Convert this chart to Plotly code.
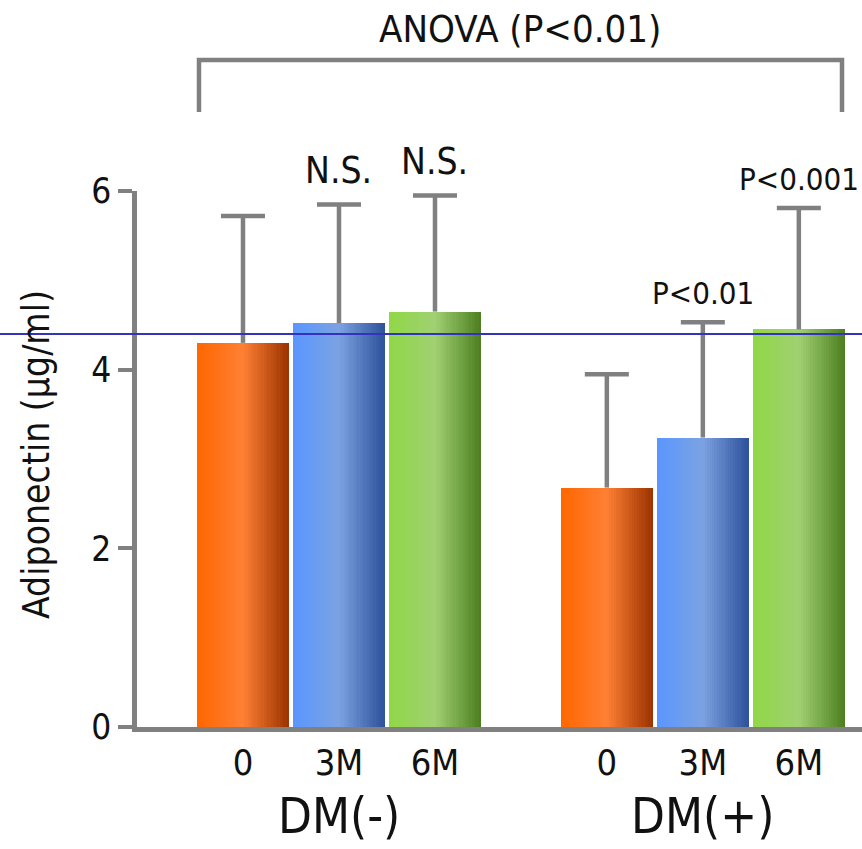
import numpy as np
import plotly.graph_objects as go

# ---- data -------------------------------------------------------------
groups = ["DM(-)", "DM(+)"]
periods = ["0", "3M", "6M"]
mean_0 = [4.30, 2.68]
mean_3m = [4.52, 3.24]
mean_6m = [4.65, 4.45]
sd_0 = [1.42, 1.27]
sd_3m = [1.33, 1.29]
sd_6m = [1.30, 1.36]
notes_0 = ["", ""]
notes_3m = ["N.S.", "P<0.01"]
notes_6m = ["N.S.", "P<0.001"]
reference_level = 4.40
anova_label = "ANOVA (P<0.01)"
y_title = "Adiponectin (µg/ml)"

means = [mean_0, mean_3m, mean_6m]
sds = [sd_0, sd_3m, sd_6m]
notes = [notes_0, notes_3m, notes_6m]

# ---- styling ----------------------------------------------------------
FONT = "DejaVu Sans Condensed, DejaVu Sans, sans-serif"
GREY = "#808080"
INK = "#111111"
# horizontal gradient stops (left, middle highlight, right shade)
gradients = [
    [(0.0, "#FF6600"), (0.5, "#FF8034"), (1.0, "#9A3200")],
    [(0.0, "#5A96FF"), (0.5, "#7CA2E2"), (1.0, "#2D519A")],
    [(0.0, "#90D846"), (0.5, "#A0D072"), (1.0, "#4C7E20")],
]
group_pos = [0.0, 3.79]
bar_w = 0.958
n_slices = 40


def hex_rgb(h):
    h = h.lstrip("#")
    return np.array([int(h[i:i + 2], 16) for i in (0, 2, 4)], dtype=float)


def grad_color(stops, t):
    for (t0, c0), (t1, c1) in zip(stops[:-1], stops[1:]):
        if t <= t1:
            f = (t - t0) / (t1 - t0)
            c = hex_rgb(c0) * (1 - f) + hex_rgb(c1) * f
            return "rgb(%d,%d,%d)" % tuple(np.round(c))
    c = hex_rgb(stops[-1][1])
    return "rgb(%d,%d,%d)" % tuple(c)


# pixel helpers for decorations placed outside the plotting area
px = lambda v: (v - 137) / 725.0
py = lambda v: (727 - v) / 536.0

fig = go.Figure()

centers_all, labels_all = [], []
for p, period in enumerate(periods):
    centers = [g + p for g in group_pos]
    centers_all += centers
    labels_all += [period, period]
    # each bar is built from thin vertical slices to give a left-to-right shading
    sw = bar_w / n_slices
    for k in range(n_slices):
        off = -bar_w / 2 + k * sw
        w = sw * 1.6 if k < n_slices - 1 else sw
        fig.add_trace(go.Bar(
            x=centers, y=means[p], width=w, offset=off,
            marker=dict(color=grad_color(gradients[p], (k + 0.5) / n_slices), line_width=0),
            hoverinfo="skip", showlegend=False,
        ))

# error bars: upward stem without caps, plus a cap at the top end only
for p in range(3):
    centers = [g + p for g in group_pos]
    tops = [m + s for m, s in zip(means[p], sds[p])]
    fig.add_trace(go.Scatter(
        x=centers, y=means[p], mode="markers",
        marker=dict(size=1, opacity=0),
        error_y=dict(type="data", symmetric=False, array=sds[p], arrayminus=[0, 0],
                     color=GREY, thickness=4.5, width=0),
        showlegend=False, hoverinfo="skip",
    ))
    fig.add_trace(go.Scatter(
        x=centers, y=tops, mode="markers",
        marker=dict(size=1, opacity=0),
        error_y=dict(type="data", symmetric=True, array=[0, 0],
                     color=GREY, thickness=4.5, width=22),
        showlegend=False, hoverinfo="skip",
    ))
    for gi in range(2):
        if notes[p][gi]:
            big = notes[p][gi] == "N.S."
            fig.add_annotation(
                x=centers[gi], y=tops[gi], text=notes[p][gi],
                showarrow=False, yanchor="bottom", yshift=10 if big else 9,
                font=dict(family=FONT, size=37 if big else 31, color=INK),
            )

# group labels under the period ticks
for gi, g in enumerate(groups):
    fig.add_annotation(
        x=group_pos[gi] + 1, y=py(816), yref="paper", text=g, showarrow=False,
        yanchor="middle", font=dict(family=FONT, size=49, color=INK),
    )

# y-axis title
fig.add_annotation(
    x=px(36), y=py(455), xref="paper", yref="paper", text=y_title, textangle=-90,
    showarrow=False, xanchor="center", yanchor="middle",
    font=dict(family=FONT, size=37, color=INK),
)

# horizontal reference line spanning the full width
fig.add_shape(type="line", xref="paper", yref="y", x0=-0.19, x1=1.0,
              y0=reference_level, y1=reference_level,
              line=dict(color="#3333BB", width=2), layer="above")

# ANOVA bracket above all bars
fig.add_shape(type="path", xref="paper", yref="paper",
              path="M %f %f L %f %f L %f %f L %f %f" % (
                  px(199), py(112), px(199), py(60), px(842), py(60), px(842), py(112)),
              line=dict(color=GREY, width=4.5))
fig.add_annotation(x=px(520), y=py(29), xref="paper", yref="paper", text=anova_label,
                   showarrow=False, yanchor="middle",
                   font=dict(family=FONT, size=38, color=INK))

fig.update_layout(
    width=862, height=849,
    margin=dict(l=137, r=0, t=191, b=122),
    plot_bgcolor="white", paper_bgcolor="white",
    barmode="overlay", bargap=0,
    showlegend=False,
    xaxis=dict(
        range=[-1.104, 6.448], tickmode="array", tickvals=centers_all, ticktext=labels_all,
        showline=True, linecolor=GREY, linewidth=4.5, ticks="", showgrid=False,
        zeroline=False, tickfont=dict(family=FONT, size=36, color=INK),
        fixedrange=True,
    ),
    yaxis=dict(
        range=[0, 6], tickvals=[0, 2, 4, 6], showline=True, linecolor=GREY, linewidth=4.5,
        ticks="outside", ticklen=14, tickwidth=4, tickcolor=GREY, showgrid=False,
        zeroline=False, tickfont=dict(family=FONT, size=35, color=INK),
        fixedrange=True,
    ),
)

fig.write_html("out.html")
